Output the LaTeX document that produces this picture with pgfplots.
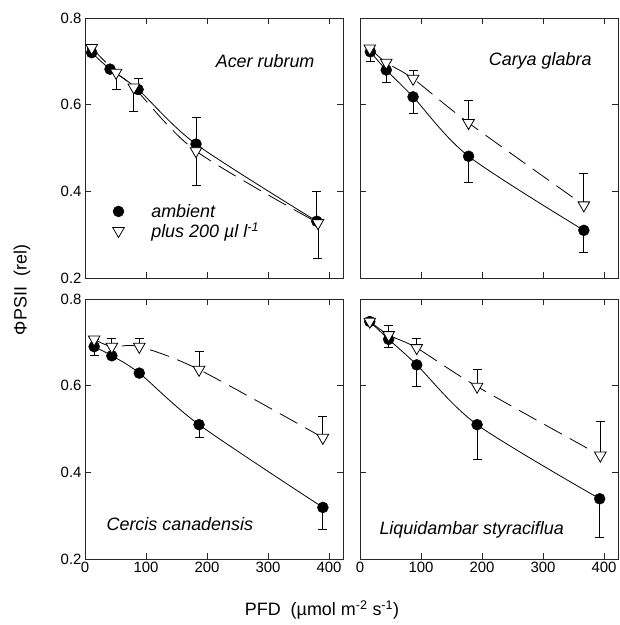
\documentclass[border=0pt]{standalone}
\usepackage{pgfplots}
\pgfplotsset{compat=1.18}
\usepackage{pgfplotstable}
\usepackage{fontspec}
\setmainfont{Liberation Sans}

% x = PFD, y = PhiPSII (rel), e = one-sided error
\pgfplotstableread{
x y e
11 0.720 0
41 0.682 0
87 0.635 0.026
182 0.509 0.061
380 0.331 0.069
}\acerAmb
\pgfplotstableread{
x y e
11 0.731 0
51 0.674 0.039
80 0.640 0.056
182 0.493 0.079
382 0.327 0.082
}\acerCO
\pgfplotstableread{
x y e
17 0.722 0.023
43 0.680 0.029
87 0.618 0.038
178 0.481 0.061
367 0.310 0.050
}\caryaAmb
\pgfplotstableread{
x y e
16 0.730 0.005
43 0.697 0
87 0.660 0.018
178 0.558 0.053
367 0.368 0.073
}\caryaCO
\pgfplotstableread{
x y e
15 0.690 0.021
44 0.669 0
89 0.629 0
187 0.510 0.029
390 0.319 0.050
}\cercisAmb
\pgfplotstableread{
x y e
15 0.707 0
44 0.690 0.020
89 0.690 0.020
187 0.637 0.043
390 0.480 0.049
}\cercisCO
\pgfplotstableread{
x y e
16 0.748 0
47 0.707 0.018
93 0.648 0.050
192 0.510 0.080
393 0.339 0.089
}\liqAmb
\pgfplotstableread{
x y e
16 0.748 0
47 0.717 0.022
93 0.687 0.021
192 0.598 0.040
394 0.439 0.079
}\liqCO

\tikzset{spec/.style={font=\itshape\fontsize{18}{21}\selectfont}}
\pgfplotsset{
  panel/.style={scale only axis,width=258bp,height=260bp,
    xmin=0,xmax=423,ymin=0.2,ymax=0.8,
    xtick={0,100,...,400},ytick={0.2,0.4,0.6,0.8},
    tick align=inside,major tick length=6bp,
    xtick pos=both,ytick pos=both,xticklabel pos=lower,yticklabel pos=left,
    /pgf/number format/assume math mode=true,
    yticklabel style={/pgf/number format/.cd,fixed,fixed zerofill,precision=1},
    tick label style={font=\fontsize{15}{18}\selectfont},
    axis line style={line width=0.8bp,black!85},
    tick style={line width=0.8bp,black!85},
    clip=false},
  fitA/.style={smooth,black,line width=0.8bp,forget plot,no marks},
  fitB/.style={smooth,black,line width=0.8bp,forget plot,no marks,dash pattern=on 20bp off 9bp},
  errs/.style={only marks,mark=none,black,forget plot,
    error bars/y explicit,error bars/y dir=#1,error bars/error mark=-,
    error bars/error bar style={line width=0.8bp,black,solid},
    error bars/error mark options={mark size=4.5bp,line width=0.8bp,black,rotate=90}},
  ptsA/.style={only marks,mark=*,mark size=5.5bp,black,forget plot},
  ptsB/.style={only marks,mark=triangle*,mark size=6.7bp,black,forget plot,
    mark options={rotate=180,fill=white,draw=black,line width=0.8bp}},
}

\begin{document}
\begin{tikzpicture}
\path (0,0) rectangle (619bp,-625bp);

% Acer rubrum
\begin{axis}[panel,at={(85bp,-18bp)},anchor=north west,xticklabels={},
  legend style={draw=none,fill=none,at={(rel axis cs:0.095,0.30)},anchor=north west,
    font=\itshape\fontsize{18}{20}\selectfont,row sep=0bp,
    /tikz/every odd column/.append style={column sep=25bp}},legend cell align=left]
\addlegendimage{only marks,mark=*,mark size=5.5bp,black}
\addlegendentry{ambient}
\addlegendimage{only marks,mark=triangle*,mark size=6.7bp,black,mark options={rotate=180,fill=white,draw=black,line width=0.8bp}}
\addlegendentry{plus 200 µl l\textsuperscript{-1}}
\addplot[fitA] table[x=x,y=y]{\acerAmb};
\addplot[fitB] table[x=x,y=y]{\acerCO};
\addplot[errs=plus] table[x=x,y=y,y error=e]{\acerAmb};
\addplot[errs=minus] table[x=x,y=y,y error=e]{\acerCO};
\addplot[ptsA] table[x=x,y=y]{\acerAmb};
\addplot[ptsB] table[x=x,y=y]{\acerCO};
\node[spec,anchor=east] at (rel axis cs:0.903,0.834) {Acer rubrum};
\end{axis}

% Carya glabra
\begin{axis}[panel,at={(360bp,-18bp)},anchor=north west,xticklabels={},yticklabels={}]
\addplot[fitA] table[x=x,y=y]{\caryaAmb};
\addplot[fitB] table[x=x,y=y]{\caryaCO};
\addplot[errs=minus] table[x=x,y=y,y error=e]{\caryaAmb};
\addplot[errs=plus] table[x=x,y=y,y error=e]{\caryaCO};
\addplot[ptsA] table[x=x,y=y]{\caryaAmb};
\addplot[ptsB] table[x=x,y=y]{\caryaCO};
\node[spec,anchor=east] at (rel axis cs:0.911,0.834) {Carya glabra};
\end{axis}

% Cercis canadensis
\begin{axis}[panel,at={(85bp,-299bp)},anchor=north west]
\addplot[fitA] table[x=x,y=y]{\cercisAmb};
\addplot[fitB] table[x=x,y=y]{\cercisCO};
\addplot[errs=minus] table[x=x,y=y,y error=e]{\cercisAmb};
\addplot[errs=plus] table[x=x,y=y,y error=e]{\cercisCO};
\addplot[ptsA] table[x=x,y=y]{\cercisAmb};
\addplot[ptsB] table[x=x,y=y]{\cercisCO};
\node[spec,anchor=west] at (rel axis cs:0.07,0.134) {Cercis canadensis};
\end{axis}

% Liquidambar styraciflua
\begin{axis}[panel,at={(360bp,-299bp)},anchor=north west,yticklabels={}]
\addplot[fitA] table[x=x,y=y]{\liqAmb};
\addplot[fitB] table[x=x,y=y]{\liqCO};
\addplot[errs=minus] table[x=x,y=y,y error=e]{\liqAmb};
\addplot[errs=plus] table[x=x,y=y,y error=e]{\liqCO};
\addplot[ptsA] table[x=x,y=y]{\liqAmb};
\addplot[ptsB] table[x=x,y=y]{\liqCO};
\node[spec,anchor=west] at (rel axis cs:0.062,0.112) {Liquidambar styraciflua};
\end{axis}

\node[rotate=90,font=\fontsize{18}{21}\selectfont] at (22bp,-290bp) {ΦPSII\ \ (rel)};
\node[font=\fontsize{18}{21}\selectfont] at (322bp,-610bp) {PFD\ \ (µmol m\textsuperscript{-2} s\textsuperscript{-1})};
\end{tikzpicture}
\end{document}
